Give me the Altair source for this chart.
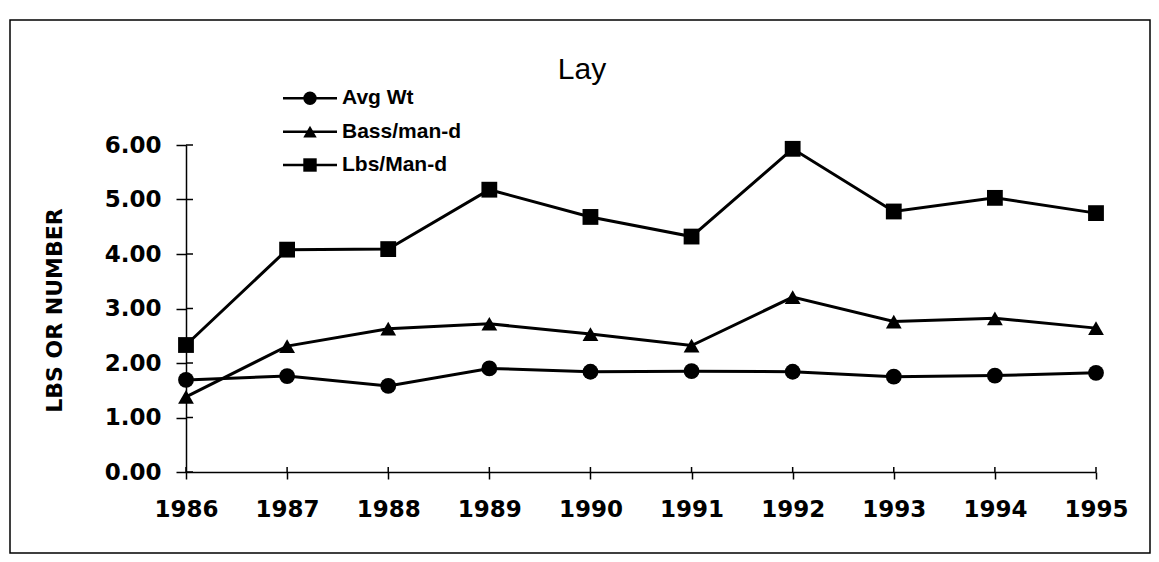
import altair as alt
import pandas as pd

years = [1986, 1987, 1988, 1989, 1990, 1991, 1992, 1993, 1994, 1995]
series_names = ["Avg Wt", "Bass/man-d", "Lbs/Man-d"]
avg_wt = [1.69, 1.76, 1.58, 1.90, 1.84, 1.85, 1.84, 1.75, 1.77, 1.82]
bass_man_d = [1.38, 2.31, 2.63, 2.72, 2.53, 2.32, 3.21, 2.76, 2.82, 2.64]
lbs_man_d = [2.33, 4.08, 4.09, 5.18, 4.68, 4.32, 5.93, 4.78, 5.03, 4.75]
y_ticks = [0, 1, 2, 3, 4, 5, 6]
shapes = ["circle", "triangle-up", "square"]

rows = []
for name, vals in zip(series_names, [avg_wt, bass_man_d, lbs_man_d]):
    for yr, v in zip(years, vals):
        rows.append({"year": yr, "value": v, "series": name})
df = pd.DataFrame(rows)
legend_df = pd.DataFrame({"series": series_names, "row": list(range(len(series_names)))})
ytick_df = pd.DataFrame({"v": y_ticks})
xtick_df = pd.DataFrame({"year": years})
one = pd.DataFrame({"t": ["Lay"]})

W, H = 910, 327
FONT = "DejaVu Sans"

xscale = alt.Scale(domain=[years[0], years[-1]], nice=False, zero=False)
yscale = alt.Scale(domain=[0, 6], nice=False)
shape_scale = alt.Scale(domain=series_names, range=shapes)

x_axis = alt.Axis(values=years, format="d", title=None, grid=False,
                  tickSize=7, tickWidth=1.5, tickColor="black",
                  domainColor="black", domainWidth=1.5,
                  labelFont=FONT, labelFontWeight="bold", labelFontSize=23,
                  labelColor="black", labelPadding=19, labelFlush=False,
                  labelOverlap=False)
y_axis = alt.Axis(values=y_ticks, format=".2f", grid=False,
                  tickSize=10, tickWidth=1.5, tickColor="black",
                  domainColor="black", domainWidth=1.5,
                  labelFont=FONT, labelFontWeight="bold", labelFontSize=23,
                  labelColor="black", labelPadding=15,
                  title="LBS OR NUMBER", titleFont=FONT, titleFontWeight="bold",
                  titleFontSize=22, titleColor="black", titleAngle=270,
                  titleX=-132, titleY=165, titleAlign="center",
                  titleBaseline="middle")

base = alt.Chart(df)
lines = base.mark_line(color="black", strokeWidth=3).encode(
    x=alt.X("year:Q", scale=xscale, axis=x_axis),
    y=alt.Y("value:Q", scale=yscale, axis=y_axis),
    detail="series:N",
)
points = base.mark_point(filled=True, color="black", opacity=1, size=250).encode(
    x=alt.X("year:Q", scale=xscale, axis=x_axis),
    y=alt.Y("value:Q", scale=yscale, axis=y_axis),
    shape=alt.Shape("series:N", scale=shape_scale, legend=None),
)
ytick_in = alt.Chart(ytick_df).mark_rule(color="black", strokeWidth=1.5).encode(
    y=alt.Y("v:Q", scale=yscale, axis=y_axis), x=alt.value(0), x2=alt.value(7)
)
xtick_in = alt.Chart(xtick_df).mark_rule(color="black", strokeWidth=1.5).encode(
    x=alt.X("year:Q", scale=xscale, axis=x_axis), y=alt.value(H - 5), y2=alt.value(H)
)
main = alt.layer(lines, points, ytick_in, xtick_in)

leg_y = alt.Y("row:Q", scale=alt.Scale(domain=[0, len(series_names) - 1], range=[-46.7, 20], nice=False, zero=False), axis=None)
leg_base = alt.Chart(legend_df)
leg_line = leg_base.mark_rule(color="black", strokeWidth=2.5).encode(
    y=leg_y, x=alt.value(97), x2=alt.value(151)
)
leg_pts = leg_base.mark_point(filled=True, color="black", opacity=1, size=180).encode(
    y=leg_y, x=alt.value(124),
    shape=alt.Shape("series:N", scale=shape_scale, legend=None),
)
leg_txt = leg_base.mark_text(
    align="left", baseline="middle", font="Liberation Sans", fontWeight="bold",
    fontSize=21, color="black"
).encode(y=leg_y, x=alt.value(156), text="series:N")
legend = alt.layer(leg_line, leg_pts, leg_txt)

title = alt.Chart(one).mark_text(
    align="center", baseline="alphabetic", font="Liberation Sans",
    fontSize=30, color="black"
).encode(text="t:N", x=alt.value(396), y=alt.value(-66))

border = alt.Chart(one).mark_rect(
    filled=False, stroke="black", strokeWidth=1.5
).encode(x=alt.value(-176), x2=alt.value(964), y=alt.value(-125), y2=alt.value(408))

chart = alt.layer(main, legend, title, border).resolve_scale(
    y="independent"
).properties(
    width=W, height=H,
    autosize=alt.AutoSizeParams(type="none"),
    padding={"left": 178, "top": 137, "right": 55, "bottom": 82},
    view=alt.ViewBackground(stroke="transparent", strokeWidth=0),
).configure_view(stroke="transparent", strokeWidth=0).configure_axis(grid=False).configure(background="white")

chart.save("out.html", embed_options={"renderer": "svg", "actions": False})
